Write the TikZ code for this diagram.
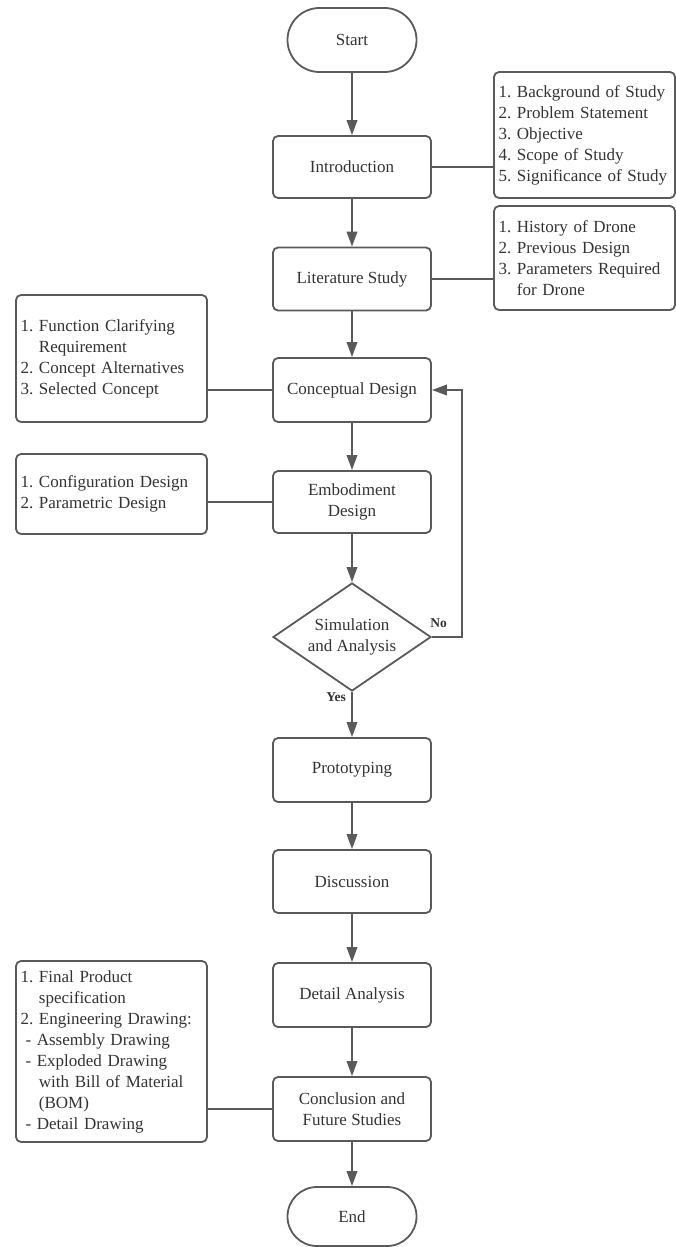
\documentclass[tikz,border=0pt]{standalone}
\usepackage{fontspec}
\setmainfont{Liberation Serif}
\usetikzlibrary{shapes.geometric,shapes.misc,arrows.meta}
\definecolor{linec}{HTML}{5A5A5A}
\definecolor{textc}{HTML}{333333}
\frenchspacing
\begin{document}
\begin{tikzpicture}[x=1pt,y=-1pt,
  base/.style={draw=linec,line width=1.8pt,text=textc,font=\fontsize{17}{21}\selectfont},
  proc/.style={base,rectangle,rounded corners=5pt,minimum width=158pt,align=center,inner sep=0pt},
  term/.style={base,rounded rectangle,minimum width=129pt,inner sep=0pt},
  listbox/.style={base,rectangle,rounded corners=5pt,align=left,inner xsep=4.5pt,inner ysep=0pt},
  dec/.style={base,diamond,minimum width=158pt,minimum height=108pt,aspect=1.46,inner sep=0pt,align=center},
  flow/.style={draw=linec,line width=1.8pt,-{Triangle[length=15pt,width=10.5pt]}},
  link/.style={draw=linec,line width=1.8pt},
  lab/.style={text=textc,font=\bfseries\fontsize{13.5}{15}\selectfont,inner sep=0pt}]
\useasboundingbox (0,0) rectangle (676,1247);
\node[term,minimum height=64pt] (start) at (352,40) {Start};
\node[proc,minimum height=62pt] (intro) at (352,167) {Introduction};
\node[proc,minimum height=63pt] (lit) at (352,279) {Literature Study};
\node[proc,minimum height=64pt] (concept) at (352,390) {Conceptual Design};
\node[proc,minimum height=62pt] (embod) at (352,502) {Embodiment\\Design};
\node[dec] (sim) at (352,637) {Simulation\\and Analysis};
\node[proc,minimum height=64pt] (proto) at (352,770) {Prototyping};
\node[proc,minimum height=63pt] (disc) at (352,881.5) {Discussion};
\node[proc,minimum height=64pt] (detail) at (352,995) {Detail Analysis};
\node[proc,minimum height=64pt] (concl) at (352,1109) {Conclusion and\\Future Studies};
\node[term,minimum height=59pt] (end) at (352,1216.5) {End};

\node[listbox,text width=172pt,minimum height=126pt] (introL) at (584.5,135)
  {1. Background of Study\\2. Problem Statement\\3. Objective\\4. Scope of Study\\5. Significance of Study};
\node[listbox,text width=172pt,minimum height=104pt] (litL) at (584.5,258)
  {1. History of Drone\\2. Previous Design\\3. Parameters Required\\\phantom{3. }for Drone};
\node[listbox,text width=182pt,minimum height=127pt] (funcL) at (111.5,358.5)
  {1. Function Clarifying\\\phantom{1. }Requirement\\2. Concept Alternatives\\3. Selected Concept};
\node[listbox,text width=182pt,minimum height=80pt] (confL) at (111.5,494)
  {1. Configuration Design\\2. Parametric Design};
\node[listbox,text width=182pt,minimum height=181pt] (finalL) at (111.5,1051.5)
  {1. Final Product\\\phantom{1. }specification\\2. Engineering Drawing:\\\hspace*{5pt}- Assembly Drawing\\\hspace*{5pt}- Exploded Drawing\\\phantom{1. }with Bill of Material\\\phantom{1. }(BOM)\\\hspace*{5pt}- Detail Drawing};

\coordinate (fb) at (462,637);

\draw[flow] (start) -- (intro);
\draw[flow] (intro) -- (lit);
\draw[flow] (lit) -- (concept);
\draw[flow] (concept) -- (embod);
\draw[flow] (embod) -- (sim);
\draw[flow] (sim) -- (proto);
\draw[flow] (proto) -- (disc);
\draw[flow] (disc) -- (detail);
\draw[flow] (detail) -- (concl);
\draw[flow] (concl) -- (end);
\draw[flow] (sim.east) -- (fb) |- (concept.east);

\draw[link] (intro.east) -- (intro.east -| introL.west);
\draw[link] (lit.east) -- (lit.east -| litL.west);
\draw[link] (concept.west) -- (concept.west -| funcL.east);
\draw[link] (embod.west) -- (embod.west -| confL.east);
\draw[link] (concl.west) -- (concl.west -| finalL.east);

\node[lab] (nolab) at (438.5,623) {No};
\node[lab] (yeslab) at (336,697) {Yes};
\end{tikzpicture}
\end{document}
